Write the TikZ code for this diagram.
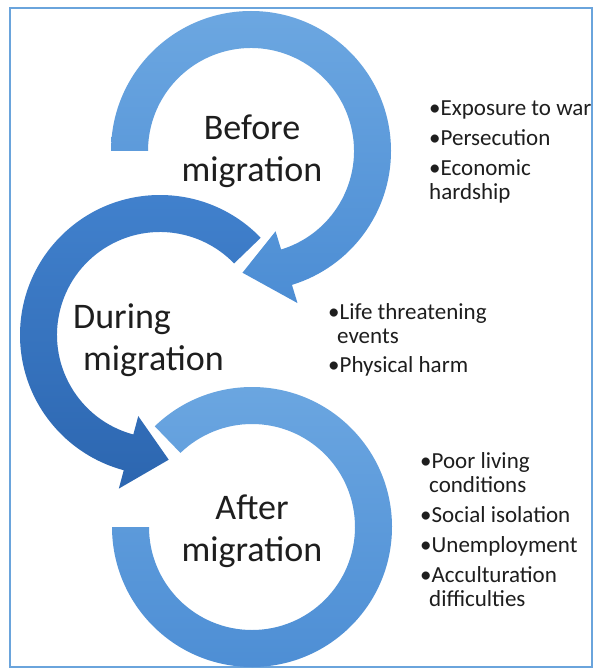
\documentclass[tikz,border=0pt]{standalone}
\usepackage{fontspec}
\setmainfont{Carlito}
\usetikzlibrary{calc}
\definecolor{lightA}{HTML}{6CA7E1}
\definecolor{lightB}{HTML}{4C8DD4}
\definecolor{darkA}{HTML}{4282CE}
\definecolor{darkB}{HTML}{2C66B0}
\definecolor{framecol}{HTML}{6AA4DC}
\definecolor{ink}{HTML}{1E1E1E}

\begin{document}
\begin{tikzpicture}[x=1pt,y=-1pt,
  ringlight/.style={top color=lightA,bottom color=lightB,draw=none},
  ringdark/.style={top color=darkA,bottom color=darkB,draw=none},
  stage/.style={text=ink,font=\fontsize{36}{42}\selectfont,align=center,inner sep=0pt},
  bullets/.style={text=ink,font=\fontsize{23}{24}\selectfont,align=left,inner sep=0pt,anchor=north west}]
\useasboundingbox (0,0) rectangle (594,671);
\fill[white] (0,0) rectangle (594,671);
\draw[framecol,line width=1.5pt] (10,8) rectangle (592,667);

\coordinate (c1) at (251,151);
\coordinate (c2) at (160,335);
\coordinate (c3) at (252,527);

\path[ringlight] ($(c1)+(-180:140)$) arc[start angle=-180,end angle=73,radius=140]
  -- ($(c1)+(73:159)$) -- ($(c1)+(94:122)$) -- ($(c1)+(73:84)$) -- ($(c1)+(73:103)$)
  arc[start angle=73,end angle=-180,radius=103] -- cycle;
\path[ringdark] ($(c2)+(-44:140)$) arc[start angle=-44,end angle=-255,radius=140]
  -- ($(c2)+(-255:159)$) -- ($(c2)+(-274:125)$) -- ($(c2)+(-255:84)$) -- ($(c2)+(-255:103)$)
  arc[start angle=-255,end angle=-44,radius=103] -- cycle;
\path[ringlight] ($(c3)+(-134:140)$) arc[start angle=-134,end angle=180,radius=140]
  -- ($(c3)+(180:103)$) arc[start angle=180,end angle=-134,radius=103] -- cycle;

\node[stage] (before) at (252,151) {Before\\migration};
\node[stage,align=left,anchor=west] (during) at (73,340) {During\\\hspace*{10pt}migration};
\node[stage] (after) at (252,531) {After\\migration};

\node[bullets] (beforelist) at (429,101) {•Exposure to war\\[6pt]•Persecution\\[6pt]•Economic\\hardship};
\node[bullets] (duringlist) at (328,303) {•Life threatening\\\hspace*{9pt}events\\[5pt]•Physical harm};
\node[bullets] (afterlist) at (420,452) {•Poor living\\\hspace*{9pt}conditions\\[6pt]•Social isolation\\[6pt]•Unemployment\\[6pt]•Acculturation\\\hspace*{9pt}difficulties};
\end{tikzpicture}
\end{document}
